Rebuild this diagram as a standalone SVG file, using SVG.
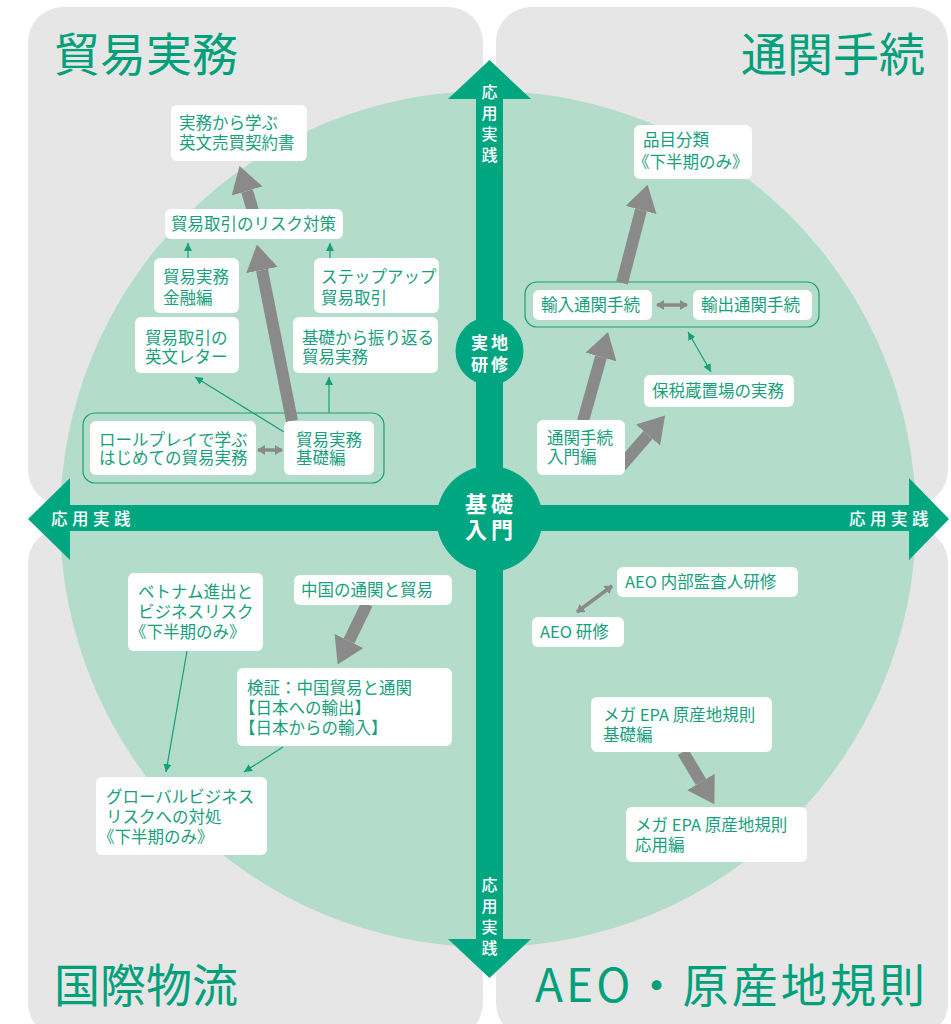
<svg xmlns="http://www.w3.org/2000/svg" width="951" height="1024" viewBox="0 0 951 1024">
<style>
.panel{fill:#e6e6e6}
.node rect{fill:#fff}
.t{font-family:"Noto Sans CJK JP","Noto Sans",sans-serif;font-size:16.5px;fill:#17a07d}
.title{font-family:"Noto Sans CJK JP","Noto Sans",sans-serif;font-size:46px;fill:#00a07b}
.ax{fill:#00a67f}
.w{font-family:"Noto Sans CJK JP","Noto Sans",sans-serif;fill:#fff;text-anchor:middle}
.frame{fill:none;stroke:#1aa07e;stroke-width:1.2}
.big{stroke:#8a8a8a;stroke-width:12;fill:none;marker-end:url(#bigHead)}
.thin{stroke:#14a07c;stroke-width:1.2;fill:none;marker-end:url(#gHead)}
.gd{stroke:#8a8a8a;stroke-width:3.5;fill:none;marker-start:url(#grayHead);marker-end:url(#grayHead)}
</style>
<defs>
<marker id="bigHead" markerUnits="userSpaceOnUse" viewBox="0 0 26 32" markerWidth="26" markerHeight="32" refX="0" refY="16" orient="auto"><path d="M0,0 L26,16 L0,32 z" fill="#8a8a8a"/></marker>
<marker id="gHead" markerUnits="userSpaceOnUse" viewBox="0 0 8 8" markerWidth="8" markerHeight="8" refX="8" refY="4" orient="auto-start-reverse"><path d="M0,0 L8,4 L0,8 z" fill="#14a07c"/></marker>
<marker id="grayHead" markerUnits="userSpaceOnUse" viewBox="0 0 8 10" markerWidth="8" markerHeight="10" refX="7" refY="5" orient="auto-start-reverse"><path d="M0,0 L8,5 L0,10 z" fill="#8a8a8a"/></marker>
</defs>
<rect width="951" height="1024" fill="#fff"/>
<g id="panels">
<rect class="panel" x="28" y="7" width="455" height="498" rx="35"/>
<rect class="panel" x="496" y="7" width="452" height="498" rx="35"/>
<rect class="panel" x="28" y="528" width="455" height="510" rx="35"/>
<rect class="panel" x="496" y="528" width="452" height="510" rx="35"/>
</g>
<circle cx="488" cy="519" r="428" fill="#b3dccb"/>
<g id="titles">
<text class="title" x="54" y="71">貿易実務</text>
<text class="title" x="925" y="71" text-anchor="end">通関手続</text>
<text class="title" x="54" y="1002">国際物流</text>
<text class="title" x="535" y="1002" textLength="390" lengthAdjust="spacing">AEO・原産地規則</text>
</g>
<g id="axes">
<rect class="ax" x="476" y="98" width="27" height="842"/>
<rect class="ax" x="69" y="505" width="841" height="26"/>
<polygon class="ax" points="489.5,60 448,99 531,99"/>
<polygon class="ax" points="489.5,978 448,939 531,939"/>
<polygon class="ax" points="28,519 70,478 70,560"/>
<polygon class="ax" points="949,519 909,478 909,560"/>
<text class="w" font-size="16" font-weight="500"><tspan x="489.5" y="98">応</tspan><tspan x="489.5" y="119">用</tspan><tspan x="489.5" y="140">実</tspan><tspan x="489.5" y="161">践</tspan></text>
<text class="w" font-size="16" font-weight="500"><tspan x="489.5" y="891">応</tspan><tspan x="489.5" y="912">用</tspan><tspan x="489.5" y="933">実</tspan><tspan x="489.5" y="954">践</tspan></text>
<text class="w" x="93" y="525" font-size="16.5" font-weight="500" letter-spacing="4.5">応用実践</text>
<text class="w" x="891" y="525" font-size="16.5" font-weight="500" letter-spacing="4.5">応用実践</text>
</g>
<g id="hub-kiso">
<circle class="ax" cx="489.5" cy="519" r="53"/>
<text class="w" font-size="22" font-weight="bold" letter-spacing="4"><tspan x="491" y="512">基礎</tspan><tspan x="491" y="538">入門</tspan></text>
</g>
<g id="hub-jicchi">
<circle class="ax" cx="489.5" cy="351" r="34"/>
<text class="w" font-size="17" font-weight="bold" letter-spacing="3"><tspan x="491" y="349">実地</tspan><tspan x="491" y="371">研修</tspan></text>
</g>
<g id="frames">
<rect id="frame-kiso" class="frame" x="83" y="413" width="301" height="70" rx="12"/>
<rect id="frame-tsukan" class="frame" x="525" y="282" width="294" height="45" rx="12"/>
</g>
<g id="connectors">
<line class="big" x1="253" y1="211" x2="247" y2="191"/>
<line class="big" x1="292" y1="421" x2="262" y2="270"/>
<line class="big" x1="622" y1="283" x2="641" y2="210"/>
<line class="big" x1="583" y1="421" x2="601" y2="357"/>
<line class="big" x1="621" y1="466" x2="648" y2="435"/>
<line class="big" x1="367" y1="604" x2="349" y2="641"/>
<line class="big" x1="683" y1="752" x2="701" y2="782"/>
<line class="thin" x1="188" y1="258" x2="188" y2="243"/>
<line class="thin" x1="330" y1="258" x2="330" y2="243"/>
<line class="thin" x1="284" y1="432" x2="195" y2="377"/>
<line class="thin" x1="329" y1="413" x2="329" y2="377"/>
<line class="thin" x1="187" y1="651" x2="166" y2="772"/>
<line class="thin" x1="283" y1="747" x2="244" y2="772"/>
<line class="thin" x1="688" y1="332" x2="711" y2="372" marker-start="url(#gHead)"/>
<line class="gd" x1="258" y1="450" x2="282" y2="450"/>
<line class="gd" x1="657" y1="305" x2="687" y2="305"/>
<line class="gd" x1="577" y1="612" x2="612" y2="586" stroke-width="2.5"/>
</g>
<g id="n-eibun-keiyaku" class="node"><rect x="171" y="105" width="136" height="56" rx="6"/><text class="t"><tspan x="179" y="129">実務から学ぶ</tspan><tspan x="179" y="149">英文売買契約書</tspan></text></g>
<g id="n-risk" class="node"><rect x="165" y="209" width="178" height="30" rx="6"/><text class="t" x="171" y="230">貿易取引のリスク対策</text></g>
<g id="n-kinyu" class="node"><rect x="154" y="258" width="85" height="55" rx="6"/><text class="t"><tspan x="163" y="283">貿易実務</tspan><tspan x="163" y="304">金融編</tspan></text></g>
<g id="n-stepup" class="node"><rect x="314" y="258" width="125" height="55" rx="6"/><text class="t"><tspan x="321" y="283">ステップアップ</tspan><tspan x="321" y="304">貿易取引</tspan></text></g>
<g id="n-letter" class="node"><rect x="135" y="317" width="104" height="56" rx="6"/><text class="t"><tspan x="145" y="344">貿易取引の</tspan><tspan x="145" y="363">英文レター</tspan></text></g>
<g id="n-furikaeru" class="node"><rect x="293" y="317" width="145" height="56" rx="6"/><text class="t"><tspan x="302" y="344">基礎から振り返る</tspan><tspan x="302" y="363">貿易実務</tspan></text></g>
<g id="n-roleplay" class="node"><rect x="90" y="421" width="166" height="54" rx="6"/><text class="t"><tspan x="99" y="446">ロールプレイで学ぶ</tspan><tspan x="99" y="464">はじめての貿易実務</tspan></text></g>
<g id="n-kiso" class="node"><rect x="284" y="421" width="90" height="54" rx="6"/><text class="t"><tspan x="296" y="446">貿易実務</tspan><tspan x="296" y="464">基礎編</tspan></text></g>
<g id="n-hinmoku" class="node"><rect x="634" y="125" width="118" height="54" rx="6"/><text class="t"><tspan x="643" y="146">品目分類</tspan><tspan x="633" y="168">《下半期のみ》</tspan></text></g>
<g id="n-yunyu" class="node"><rect x="533" y="290" width="119" height="30" rx="6"/><text class="t" x="541" y="311">輸入通関手続</text></g>
<g id="n-yushutsu" class="node"><rect x="693" y="290" width="119" height="30" rx="6"/><text class="t" x="701" y="311">輸出通関手続</text></g>
<g id="n-hozei" class="node"><rect x="644" y="375" width="150" height="32" rx="6"/><text class="t" x="652" y="397">保税蔵置場の実務</text></g>
<g id="n-tsukan-nyumon" class="node"><rect x="537" y="420" width="88" height="55" rx="6"/><text class="t"><tspan x="547" y="444">通関手続</tspan><tspan x="547" y="463">入門編</tspan></text></g>
<g id="n-vietnam" class="node"><rect x="128" y="573" width="135" height="78" rx="6"/><text class="t"><tspan x="138" y="598">ベトナム進出と</tspan><tspan x="138" y="618">ビジネスリスク</tspan><tspan x="130" y="638">《下半期のみ》</tspan></text></g>
<g id="n-china" class="node"><rect x="294" y="575" width="158" height="30" rx="6"/><text class="t" x="301" y="596">中国の通関と貿易</text></g>
<g id="n-kensho" class="node"><rect x="237" y="668" width="215" height="78" rx="6"/><text class="t"><tspan x="247" y="694">検証：中国貿易と通関</tspan><tspan x="239" y="714">【日本への輸出】</tspan><tspan x="239" y="734">【日本からの輸入】</tspan></text></g>
<g id="n-global" class="node"><rect x="96" y="777" width="171" height="78" rx="6"/><text class="t"><tspan x="106" y="803">グローバルビジネス</tspan><tspan x="106" y="823">リスクへの対処</tspan><tspan x="98" y="843">《下半期のみ》</tspan></text></g>
<g id="n-aeo-naibu" class="node"><rect x="617" y="567" width="181" height="30" rx="6"/><text class="t" x="625" y="588">AEO 内部監査人研修</text></g>
<g id="n-aeo" class="node"><rect x="532" y="617" width="92" height="30" rx="6"/><text class="t" x="540" y="638">AEO 研修</text></g>
<g id="n-epa-kiso" class="node"><rect x="591" y="697" width="181" height="55" rx="6"/><text class="t"><tspan x="603" y="721">メガ EPA 原産地規則</tspan><tspan x="603" y="741">基礎編</tspan></text></g>
<g id="n-epa-oyo" class="node"><rect x="626" y="807" width="181" height="55" rx="6"/><text class="t"><tspan x="635" y="831">メガ EPA 原産地規則</tspan><tspan x="635" y="851">応用編</tspan></text></g>
</svg>
